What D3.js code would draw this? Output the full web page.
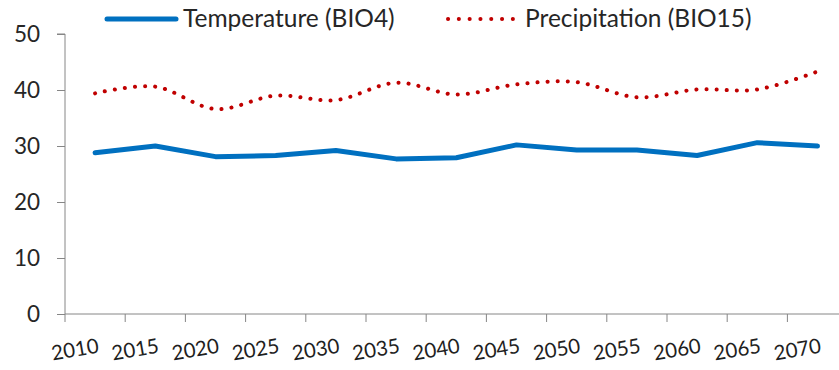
<!DOCTYPE html>
<html>
<head>
<meta charset="utf-8">
<script src="https://cdn.jsdelivr.net/npm/d3@7"></script>
<style>
  body { margin: 0; background: #fff; }
  text { font-family: Lato, "Open Sans", sans-serif; fill: #262626; }
</style>
</head>
<body>
<div id="chart"></div>
<script>
// Values
var years = [2010, 2015, 2020, 2025, 2030, 2035, 2040, 2045, 2050, 2055, 2060, 2065, 2070];
var temperature = [28.8, 30.0, 28.1, 28.3, 29.2, 27.7, 27.9, 30.2, 29.3, 29.3, 28.3, 30.6, 30.0];
var precipitation = [39.4, 40.6, 36.6, 39.0, 38.2, 41.3, 39.2, 41.0, 41.4, 38.7, 40.1, 40.1, 43.3];
var yTicks = [0, 10, 20, 30, 40, 50];
var seriesNames = ["Temperature (BIO4)", "Precipitation (BIO15)"];

var width = 839,
    height = 370;

var plotLeft = 65,
    plotTop = 34,
    plotBottom = 314,
    step = 60.2;

var svg = d3.select("#chart").append("svg")
    .attr("width", width)
    .attr("height", height);

var x = d3.scaleBand()
    .domain(years)
    .range([plotLeft, plotLeft + step * years.length])
    .padding(0);

var y = d3.scaleLinear()
    .domain([0, 50])
    .range([plotBottom, plotTop]);

var cx = function(d, i) { return x(years[i]) + x.bandwidth() / 2; };

// y axis
var yAxis = svg.append("g")
    .attr("transform", "translate(" + plotLeft + ",0)")
    .call(d3.axisLeft(y).tickValues(yTicks).tickSize(8).tickPadding(17));
yAxis.selectAll("line, path").attr("stroke", "#868686");
yAxis.select(".domain").attr("d", "M-8," + plotTop + "H0V" + plotBottom);
yAxis.selectAll("text")
    .style("font-size", "22.5px")
    .attr("fill", "#1f1f1f");

// x axis, ticks sit between categories
var xAxis = svg.append("g").attr("transform", "translate(0," + plotBottom + ")");
xAxis.append("line")
    .attr("x1", plotLeft).attr("x2", width)
    .attr("stroke", "#868686");
xAxis.selectAll(".tk")
    .data(years)
    .enter().append("line")
    .attr("class", "tk")
    .attr("x1", function(d) { return x(d); })
    .attr("x2", function(d) { return x(d); })
    .attr("y2", 8)
    .attr("stroke", "#868686");
xAxis.selectAll(".lbl")
    .data(years)
    .enter().append("text")
    .attr("class", "lbl")
    .attr("transform", function(d) {
        return "translate(" + (x(d) + x.bandwidth() / 2 + 2) + ",24) rotate(-10)";
    })
    .attr("text-anchor", "end")
    .attr("dy", "0.71em")
    .style("font-size", "20.5px")
    .style("fill", "#1f1f1f")
    .text(function(d) { return d; });

// lines
var tempLine = d3.line()
    .x(cx)
    .y(function(d) { return y(d); });

var precLine = d3.line()
    .x(cx)
    .y(function(d) { return y(d); })
    .curve(d3.curveCardinal.tension(0));

svg.append("path")
    .datum(temperature)
    .attr("d", tempLine)
    .attr("fill", "none")
    .attr("stroke", "#0070c0")
    .attr("stroke-width", 5)
    .attr("stroke-linejoin", "round")
    .attr("stroke-linecap", "round");

svg.append("path")
    .datum(precipitation)
    .attr("d", precLine)
    .attr("fill", "none")
    .attr("stroke", "#c00000")
    .attr("stroke-width", 4)
    .attr("stroke-linecap", "round")
    .attr("stroke-dasharray", "0.1 10");

// legend
var legend = svg.append("g");
legend.append("line")
    .attr("x1", 107).attr("x2", 176)
    .attr("y1", 19).attr("y2", 19)
    .attr("stroke", "#0070c0")
    .attr("stroke-width", 5)
    .attr("stroke-linecap", "round");
legend.append("text")
    .attr("x", 183).attr("y", 27)
    .style("font-size", "24.5px")
    .text(seriesNames[0]);

legend.append("line")
    .attr("x1", 448).attr("x2", 513)
    .attr("y1", 19).attr("y2", 19)
    .attr("stroke", "#c00000")
    .attr("stroke-width", 4)
    .attr("stroke-linecap", "round")
    .attr("stroke-dasharray", "0.1 10.7");
legend.append("text")
    .attr("x", 525).attr("y", 27)
    .style("font-size", "24.5px")
    .text(seriesNames[1]);
</script>
</body>
</html>
